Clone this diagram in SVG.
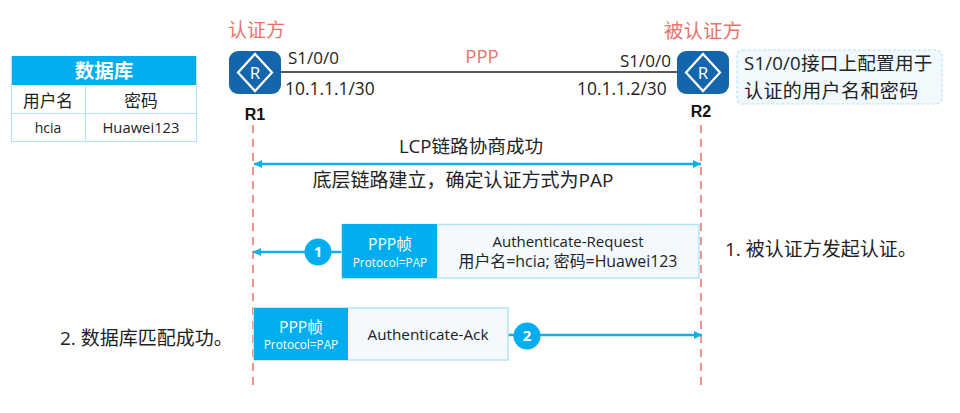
<svg xmlns="http://www.w3.org/2000/svg" width="960" height="413" viewBox="0 0 960 413">
<style>
text{font-family:"Open Sans","Noto Sans CJK SC",sans-serif;fill:#222;font-size:15px}
.m{text-anchor:middle}
.red{fill:#e8746a;font-size:19px}
.b{font-family:"Liberation Sans","Noto Sans CJK SC",sans-serif;font-weight:700;font-size:16px;fill:#111}
.w{fill:#fff}
.frame{fill:#f3f9fc;stroke:#b5e3f7;stroke-width:1.5}
.blue{fill:#00aeef}
.life{stroke:#e8746a;stroke-width:1.5;stroke-dasharray:8 6;fill:none}
.flow{stroke:#12aee8;stroke-width:2.6;fill:none}
.grid{stroke:#b5e3f7;stroke-width:1.2;fill:#fff}
.rbody{fill:#1565ad}
.rmark{fill:none;stroke:#fff;stroke-width:2.200}
</style>
<defs>
<marker id="ah" markerWidth="9" markerHeight="8" refX="8" refY="4" orient="auto-start-reverse" markerUnits="userSpaceOnUse"><path d="M0 0L8 4L0 8Z" fill="#12aee8"/></marker>
</defs>
<g id="connectors">
<line x1="281" y1="72" x2="677" y2="72" stroke="#222" stroke-width="1.500"/>
<line class="life" x1="253" y1="125" x2="253" y2="390"/>
<line class="life" x1="701" y1="125" x2="701" y2="390"/>
<line class="flow" x1="254" y1="164" x2="701" y2="164" marker-start="url(#ah)" marker-end="url(#ah)"/>
<line class="flow" x1="342" y1="252" x2="253" y2="252" marker-end="url(#ah)"/>
<line class="flow" x1="508" y1="335" x2="702" y2="335" marker-end="url(#ah)"/>
</g>
<g id="database">
<rect class="grid" x="11.500" y="56.500" width="185" height="85"/>
<line class="grid" x1="85.500" y1="85" x2="85.500" y2="141"/>
<line class="grid" x1="11" y1="113.500" x2="196" y2="113.500"/>
<rect class="blue" x="12" y="56" width="184" height="29"/>
<text class="m w" x="104" y="78" font-weight="700" style="font-size:19.500px">数据库</text>
<text class="m" x="48" y="107" style="font-size:16.700px">用户名</text>
<text class="m" x="141" y="107" style="font-size:16.700px">密码</text>
<text class="m" x="48" y="133" style="font-size:14px">hcia</text>
<text class="m" x="141" y="133" style="font-size:14.800px">Huawei123</text>
</g>
<g id="R1">
<text class="red" x="228" y="37">认证方</text>
<rect class="rbody" x="229" y="51" width="52" height="43" rx="9"/>
<path class="rmark" d="M255 54L272 72.500L255 91L238 72.500Z"/>
<text class="m w" x="255" y="79" style="font-size:17px">R</text>
<text class="b m" x="255" y="120">R1</text>
<text x="288" y="64" style="font-size:17px">S1/0/0</text>
<text x="285" y="95" style="font-size:17.400px">10.1.1.1/30</text>
</g>
<g id="R2">
<text class="red" x="664" y="38" style="font-size:19.500px">被认证方</text>
<rect class="rbody" x="677" y="51" width="52" height="43" rx="9"/>
<path class="rmark" d="M703 54L720 72.500L703 91L686 72.500Z"/>
<text class="m w" x="703" y="79" style="font-size:17px">R</text>
<text class="b m" x="701" y="117">R2</text>
<text x="620" y="67" style="font-size:17px">S1/0/0</text>
<text x="577" y="95" style="font-size:17.400px">10.1.1.2/30</text>
</g>
<g id="ppp-label"><text class="red m" x="482" y="63" style="font-size:18.500px">PPP</text></g>
<g id="note">
<rect x="737" y="50" width="205" height="54" rx="6" fill="#f1f9fd" stroke="#b5e3f7" stroke-width="1.200" stroke-dasharray="3 2"/>
<text x="744" y="70" style="font-size:18.600px;letter-spacing:.2px">S1/0/0接口上配置用于</text>
<text x="744" y="97.500" style="font-size:19px;letter-spacing:.4px">认证的用户名和密码</text>
</g>
<g id="lcp">
<text class="m" x="471" y="153" style="font-size:18.600px">LCP链路协商成功</text>
<text class="m" x="463" y="187" style="font-size:19px">底层链路建立，确定认证方式为PAP</text>
</g>
<g id="frame-request">
<rect class="frame" x="342" y="224.500" width="357" height="53.500"/>
<rect class="blue" x="342" y="224" width="95" height="54"/>
<text class="m w" x="390" y="250" style="font-size:15.700px">PPP帧</text>
<text class="m w" x="390" y="267" style="font-size:11.800px">Protocol=PAP</text>
<text class="m" x="568" y="247" style="font-size:15px">Authenticate-Request</text>
<text class="m" x="568" y="267" style="font-size:15.900px">用户名=hcia; 密码=Huawei123</text>
</g>
<g id="frame-ack">
<rect class="frame" x="254" y="308" width="254" height="52"/>
<rect class="blue" x="254" y="308" width="94" height="52"/>
<text class="m w" x="301" y="333" style="font-size:15.700px">PPP帧</text>
<text class="m w" x="301" y="349" style="font-size:11.800px">Protocol=PAP</text>
<text class="m" x="428" y="340" style="font-size:15.300px">Authenticate-Ack</text>
</g>
<g id="step-1">
<circle class="blue" cx="318" cy="252" r="13.500"/>
<text class="m w" x="318" y="257" font-weight="700" style="font-size:15px">1</text>
</g>
<g id="step-2">
<circle class="blue" cx="527" cy="336" r="13.500"/>
<text class="m w" x="527" y="341" font-weight="700" style="font-size:15px">2</text>
</g>
<g id="captions">
<text x="725" y="256" style="font-size:19px">1. 被认证方发起认证。</text>
<text x="60" y="345" style="font-size:19px">2. 数据库匹配成功。</text>
</g>
</svg>
